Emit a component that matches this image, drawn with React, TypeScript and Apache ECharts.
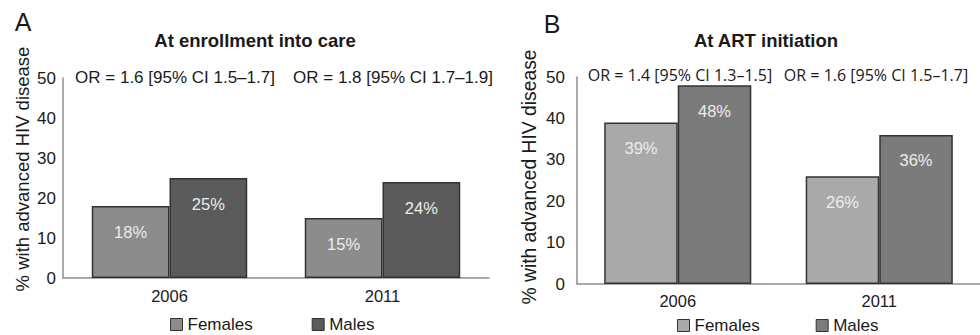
import React, { useEffect, useRef } from "react";
import * as echarts from "echarts";

const categories = ["2006", "2011"];
const enrollFemales = [18, 15];
const enrollMales = [25, 24];
const artFemales = [39, 26];
const artMales = [48, 36];
const orEnroll = ["OR = 1.6 [95% CI 1.5–1.7]", "OR = 1.8 [95% CI 1.7–1.9]"];
const orArt = ["OR = 1.4 [95% CI 1.3–1.5]", "OR = 1.6 [95% CI 1.5–1.7]"];
const seriesNames = ["Females", "Males"];
const panelTitles = ["At enrollment into care", "At ART initiation"];
const panelLetters = ["A", "B"];
const yName = "% with advanced HIV disease";

const SANS = "'Liberation Sans', Arial, Helvetica, sans-serif";

const colA = { f: "#8c8c8c", m: "#5b5b5b" };
const colB = { f: "#a9a9a9", m: "#7b7b7b" };

function txt(x: number, y: number, text: string, size: number, opts: any = {}) {
  return {
    type: "text",
    x,
    y,
    rotation: opts.rotation || 0,
    style: {
      text,
      fontSize: size,
      fontFamily: opts.family || SANS,
      fontWeight: opts.weight || "normal",
      fill: opts.fill || "#1a1a1a",
      align: opts.align || "center",
      verticalAlign: "middle",
      textAlign: opts.align || "center",
      textVerticalAlign: "middle",
    },
  };
}

export default function App() {
  const ref = useRef<HTMLDivElement>(null);
  useEffect(() => {
    if (!ref.current) return;
    const chart = echarts.init(ref.current, null, { renderer: "svg" });
    const axisLine = { show: true, lineStyle: { color: "#8f8f8f", width: 1.5 } };
    const xAxisBase = {
      type: "category",
      data: categories,
      axisLine,
      axisTick: { show: false },
      axisLabel: { fontSize: 16.5, color: "#1a1a1a", fontFamily: SANS, margin: 9 },
    };
    const yAxisBase = {
      type: "value",
      min: 0,
      max: 50,
      interval: 10,
      axisLine,
      axisTick: { show: false },
      splitLine: { show: false },
      axisLabel: { fontSize: 17, color: "#1a1a1a", fontFamily: SANS },
    };
    const barLabel = {
      show: true,
      position: "insideTop",
      distance: 17,
      color: "#ececec",
      fontSize: 16.5,
      fontFamily: SANS,
      formatter: "{c}%",
    };
    const bar = (name: string, data: number[], idx: number, color: string) => ({
      type: "bar",
      name,
      data,
      xAxisIndex: idx,
      yAxisIndex: idx,
      barGap: "0%",
      barCategoryGap: "27%",
      itemStyle: { color, borderColor: "#333", borderWidth: 1.5 },
      label: barLabel,
    });
    const legendBase = {
      itemWidth: 12,
      itemHeight: 12,
      icon: "rect",
      textStyle: { fontSize: 17, color: "#1a1a1a", fontFamily: SANS },
    };
    chart.setOption({
      animation: false,
      grid: [
        { left: 63, top: 78, width: 426, height: 200 },
        { left: 577, top: 77, width: 414, height: 207 },
      ],
      xAxis: [
        { ...xAxisBase, gridIndex: 0 },
        { ...xAxisBase, gridIndex: 1, axisLabel: { ...xAxisBase.axisLabel, margin: 8 } },
      ],
      yAxis: [
        { ...yAxisBase, gridIndex: 0, axisLabel: { ...yAxisBase.axisLabel, margin: 7 } },
        { ...yAxisBase, gridIndex: 1, axisLabel: { ...yAxisBase.axisLabel, margin: 12 } },
      ],
      legend: [
        {
          ...legendBase,
          left: 165,
          top: 311,
          itemGap: 59,
          data: [
            { name: seriesNames[0], itemStyle: { color: colA.f, borderColor: "#333", borderWidth: 1 } },
            { name: seriesNames[1], itemStyle: { color: colA.m, borderColor: "#333", borderWidth: 1 } },
          ],
        },
        {
          ...legendBase,
          left: 672,
          top: 312,
          itemGap: 56,
          data: [
            { name: seriesNames[0], itemStyle: { color: colB.f, borderColor: "#333", borderWidth: 1 } },
            { name: seriesNames[1], itemStyle: { color: colB.m, borderColor: "#333", borderWidth: 1 } },
          ],
        },
      ],
      series: [
        bar(seriesNames[0], enrollFemales, 0, colA.f),
        bar(seriesNames[1], enrollMales, 0, colA.m),
        bar(seriesNames[0], artFemales, 1, colB.f),
        bar(seriesNames[1], artMales, 1, colB.m),
      ],
      graphic: [
        txt(23, 22, panelLetters[0], 25),
        txt(552, 24, panelLetters[1], 25),
        txt(255, 40, panelTitles[0], 18.5, { weight: "bold" }),
        txt(766, 40, panelTitles[1], 18.5, { weight: "bold" }),
        txt(175, 77, orEnroll[0], 17),
        txt(393, 77, orEnroll[1], 17),
        txt(680, 75, orArt[0], 16, { family: "'Open Sans', 'Noto Sans', sans-serif" }),
        txt(876, 75, orArt[1], 16, { family: "'Open Sans', 'Noto Sans', sans-serif" }),
        txt(22, 169, yName, 18.5, { rotation: Math.PI / 2 }),
        txt(529, 177, yName, 19.3, { rotation: Math.PI / 2 }),
      ],
    });
    return () => chart.dispose();
  }, []);
  return (
    <div
      ref={ref}
      style={{ position: "fixed", left: 0, top: 0, width: 980, height: 335, background: "#fff" }}
    />
  );
}
